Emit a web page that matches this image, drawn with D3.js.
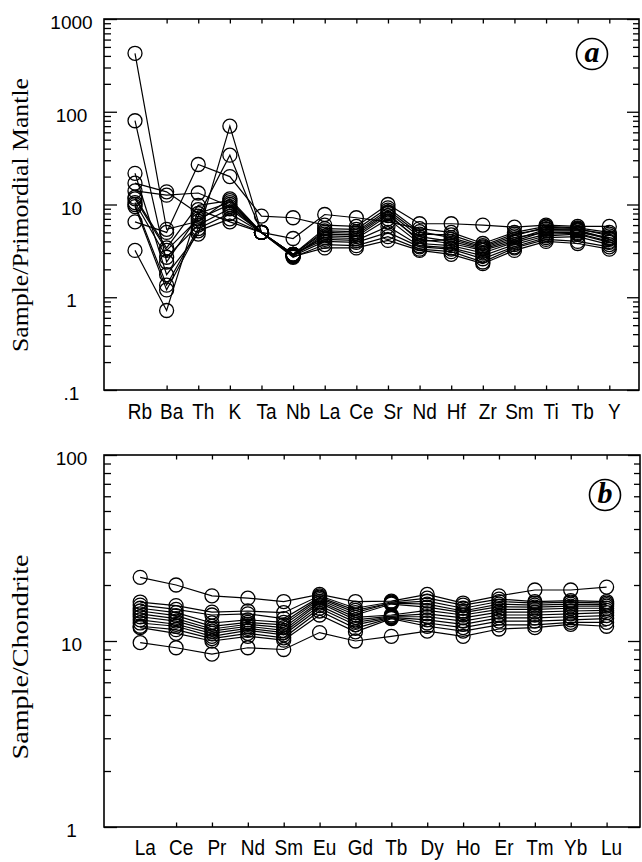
<!DOCTYPE html>
<html><head><meta charset="utf-8">
<script src="https://cdn.jsdelivr.net/npm/d3@7"></script>
<style>body{margin:0;background:#fff}svg{display:block}</style>
</head><body>
<script>
// ---------- Panel a : primitive-mantle normalised spider diagram ----------
const catsA = ["Rb","Ba","Th","K","Ta","Nb","La","Ce","Sr","Nd","Hf","Zr","Sm","Ti","Tb","Y"];
const a1  = [427, 5.4, 6.6, 11.5, 5.0, 2.9, 5.0, 4.9, 8.3, 4.5, 4.0, 3.3, 4.2, 5.4, 5.3, 4.3];
const a2  = [80, 2.4, 7.5, 34, 5.0, 2.8, 4.6, 4.5, 7.6, 4.2, 3.8, 3.2, 4.0, 5.2, 5.2, 4.2];
const a3  = [21.7, 1.75, 4.8, 70, 5.0, 2.9, 5.5, 5.4, 9.2, 5.1, 4.4, 3.5, 4.6, 5.7, 5.5, 4.6];
const a4  = [6.5, 5.0, 27, 20, 7.5, 7.2, 6.0, 5.8, 10, 6.2, 6.2, 6.0, 5.7, 6.0, 5.8, 5.8];
const a5  = [17, 13.7, 8.0, 10.5, 5.0, 4.3, 7.8, 7.2, 6.5, 5.5, 5.0, 3.8, 5.0, 5.8, 5.6, 5.0];
const a6  = [14, 12.6, 13.3, 9.5, 5.0, 2.9, 5.2, 5.1, 8.7, 4.8, 4.7, 3.6, 4.8, 5.5, 5.4, 4.8];
const a7  = [12, 3.4, 9.8, 11, 5.0, 2.8, 4.8, 4.7, 8.0, 4.0, 4.2, 3.4, 4.4, 5.0, 5.0, 4.4];
const a8  = [11.5, 3.2, 7.0, 10, 5.0, 2.9, 4.4, 4.3, 7.0, 3.8, 3.6, 3.0, 3.9, 4.8, 4.9, 4.0];
const a9  = [10.5, 2.7, 6.0, 9, 5.0, 2.9, 4.2, 4.1, 5.8, 3.6, 3.4, 2.8, 3.7, 4.6, 4.8, 3.9];
const a10 = [10, 1.35, 5.5, 8, 5.0, 2.8, 4.0, 3.9, 5.0, 3.5, 3.3, 2.6, 3.5, 4.4, 4.5, 3.7];
const a11 = [9.5, 1.2, 5.2, 7, 5.0, 2.7, 3.7, 3.6, 4.5, 3.3, 3.1, 2.4, 3.4, 4.2, 4.0, 3.5];
const a12 = [3.2, 0.72, 8.8, 6.5, 5.0, 2.75, 3.4, 3.4, 4.1, 3.2, 2.9, 2.3, 3.2, 4.0, 3.8, 3.3];
const seriesA = [a1,a2,a3,a4,a5,a6,a7,a8,a9,a10,a11,a12];
const yTicksA = [0.1, 1, 10, 100, 1000];
const yLabelsA = [".1", "1", "10", "100", "1000"];

// ---------- Panel b : chondrite normalised REE pattern ----------
const catsB = ["La","Ce","Pr","Nd","Sm","Eu","Gd","Tb","Dy","Ho","Er","Tm","Yb","Lu"];
const b1  = [22, 20, 17.5, 17, 16.3, 17.8, 16.3, 16.4, 17.8, 16, 17.5, 18.8, 18.8, 19.5];
const b2  = [16.2, 15.5, 14.3, 14.5, 14.2, 17.5, 15, 16.2, 17, 15.6, 16.8, 16.3, 16.5, 16.3];
const b3  = [15.6, 14.8, 13.8, 14, 13.2, 17.2, 14.6, 16, 16.4, 15, 16.3, 16, 16.2, 16];
const b4  = [15, 14.2, 12.5, 13, 12.6, 17, 14.2, 16, 15.8, 14.5, 15.8, 15.6, 15.8, 15.7];
const b5  = [14.5, 13.7, 12.0, 12.6, 12.2, 16.7, 13.8, 15.8, 15.2, 14.2, 15.3, 15.2, 15.4, 15.4];
const b6  = [14, 13.2, 11.6, 12.3, 11.8, 16.3, 13.4, 13.8, 14.6, 13.8, 14.8, 14.8, 15, 15];
const b7  = [13.5, 12.8, 11.3, 12, 11.4, 16, 13, 13.6, 14, 13.3, 14.3, 14.3, 14.5, 14.6];
const b8  = [13, 12.3, 11.0, 11.7, 11.1, 15.5, 12.6, 13.5, 13.5, 12.8, 13.8, 13.8, 14, 14.2];
const b9  = [12.5, 12, 10.6, 11.4, 10.8, 15, 12.2, 13.4, 13, 12.3, 13.3, 13.3, 13.5, 13.7];
const b10 = [12, 11.5, 10.3, 11, 10.4, 14.5, 11.7, 13.3, 12.5, 11.8, 12.8, 12.8, 13, 13.2];
const b11 = [11.8, 11, 10.0, 10.6, 10.1, 13.8, 11.2, 13.2, 12, 11.3, 12.2, 12.2, 12.6, 12.6];
const b12 = [9.8, 9.2, 8.5, 9.2, 9.0, 11.1, 10.0, 10.6, 11.3, 10.6, 11.6, 11.8, 12.3, 12.0];
const seriesB = [b1,b2,b3,b4,b5,b6,b7,b8,b9,b10,b11,b12];
const yTicksB = [1, 10, 100];
const yLabelsB = ["1", "10", "100"];

const svg = d3.select("body").append("svg").attr("width", 642).attr("height", 862);

function panel(o) {
  const g = svg.append("g");
  const x = d3.scalePoint().domain(o.cats).range([o.x0, o.x1]);
  const y = d3.scaleLog().domain(o.dom).range([o.bottom, o.top]);
  const [d0, d1] = o.dom;
  const minors = [];
  for (let d = d0; d < d1 * 0.999; d *= 10) for (let k = 2; k <= 9; k++) minors.push(k * d);

  const styleAxis = sel => {
    sel.select(".domain").remove();
    sel.selectAll("line").attr("stroke", "#000").attr("stroke-width", 1.3);
  };
  g.append("g").attr("transform", `translate(${o.left},0)`)
    .call(d3.axisLeft(y).tickValues(o.yTicks).tickSize(-13).tickFormat("")).call(styleAxis);
  g.append("g").attr("transform", `translate(${o.left},0)`)
    .call(d3.axisLeft(y).tickValues(minors).tickSize(-7).tickFormat("")).call(styleAxis);
  g.append("g").attr("transform", `translate(${o.right},0)`)
    .call(d3.axisRight(y).tickValues(o.yTicks).tickSize(-12).tickFormat("")).call(styleAxis);
  g.append("g").attr("transform", `translate(${o.right},0)`)
    .call(d3.axisRight(y).tickValues(minors).tickSize(-6).tickFormat("")).call(styleAxis);
  g.append("g").attr("transform", `translate(0,${o.bottom})`)
    .call(d3.axisBottom(x).tickValues(o.cats.slice(1)).tickSize(-4.5).tickFormat("")).call(styleAxis);
  g.append("g").attr("transform", `translate(0,${o.top})`)
    .call(d3.axisTop(x).tickValues(o.cats.slice(1)).tickSize(-4.5).tickFormat("")).call(styleAxis);

  g.append("rect").attr("x", o.left).attr("y", o.top)
    .attr("width", o.right - o.left).attr("height", o.bottom - o.top)
    .attr("fill", "none").attr("stroke", "#000").attr("stroke-width", 1.6);

  g.selectAll(".yl").data(o.yTicks).join("text")
    .attr("x", 71.5).attr("y", d => y(d) + 10)
    .attr("text-anchor", "middle")
    .attr("font-family", "Liberation Sans, Arial, sans-serif").attr("font-size", 19)
    .text((d, i) => o.yLabels[i]);

  g.selectAll(".xl").data(o.cats).join("text")
    .attr("transform", d => `translate(${x(d) + 5},${o.labelY}) scale(1,1.2)`)
    .attr("text-anchor", "middle")
    .attr("font-family", "Liberation Sans, Arial, sans-serif").attr("font-size", 19)
    .text(d => d);

  g.append("text")
    .attr("transform", `translate(28,${o.titleY}) rotate(-90)`)
    .attr("text-anchor", "middle")
    .attr("font-family", "Liberation Serif, Times New Roman, serif").attr("font-size", 23)
    .attr("textLength", o.titleLen).attr("lengthAdjust", "spacingAndGlyphs")
    .text(o.title);

  g.append("circle").attr("cx", o.lx).attr("cy", o.ly).attr("r", 15.5)
    .attr("fill", "none").attr("stroke", "#000").attr("stroke-width", 1.6);
  g.append("text").attr("x", o.lx).attr("y", o.ly + 8)
    .attr("text-anchor", "middle")
    .attr("font-family", "Liberation Serif, Times New Roman, serif")
    .attr("font-weight", "bold").attr("font-style", "italic").attr("font-size", 30)
    .text(o.letter);

  const line = d3.line().x((d, i) => x(o.cats[i])).y(d => y(d));
  g.selectAll(".ser").data(o.series).join("path")
    .attr("d", line).attr("fill", "none").attr("stroke", "#000").attr("stroke-width", 1.2);
  o.series.forEach(s => {
    g.selectAll(null).data(s).join("circle")
      .attr("cx", (d, i) => x(o.cats[i])).attr("cy", d => y(d)).attr("r", 7)
      .attr("fill", "none").attr("stroke", "#000").attr("stroke-width", 1.3);
  });
}

panel({cats: catsA, series: seriesA, x0: 135, x1: 609.3, left: 104, right: 639, top: 19, bottom: 390,
  dom: [0.1, 1000], yTicks: yTicksA, yLabels: yLabelsA, labelY: 419,
  title: "Sample/Primordial Mantle", titleY: 215, titleLen: 274, letter: "a", lx: 592, ly: 54});
panel({cats: catsB, series: seriesB, x0: 140.2, x1: 606.6, left: 104, right: 640, top: 455, bottom: 827,
  dom: [1, 100], yTicks: yTicksB, yLabels: yLabelsB, labelY: 855,
  title: "Sample/Chondrite", titleY: 657, titleLen: 205, letter: "b", lx: 605, ly: 495});
</script>
</body></html>
